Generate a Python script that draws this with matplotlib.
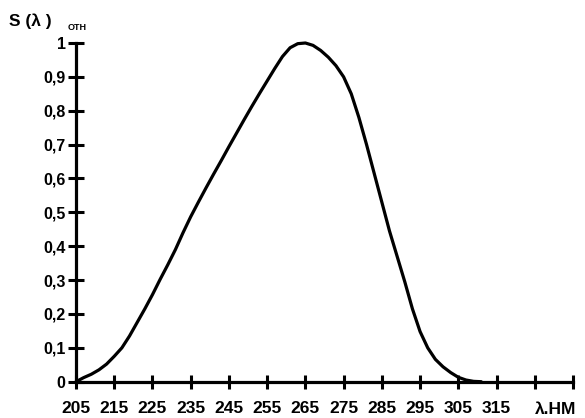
import numpy as np
import matplotlib
matplotlib.use("Agg")
import matplotlib.pyplot as plt

# spectral curve
wavelength = [205, 207, 209, 211, 213, 215, 217, 219, 221, 223, 225, 227, 229,
              231, 233, 235, 237, 239, 241, 243, 245, 247, 249, 251, 253, 255,
              257, 259, 261, 263, 265, 267, 269, 271, 273, 275, 277, 279, 281,
              283, 285, 287, 289, 291, 293, 295, 297, 299, 301, 303, 305, 307,
              309, 311]
sensitivity = [0.0, 0.012, 0.022, 0.035, 0.052, 0.075, 0.1, 0.135, 0.175,
               0.215, 0.257, 0.302, 0.345, 0.39, 0.44, 0.487, 0.53, 0.572,
               0.613, 0.653, 0.694, 0.734, 0.774, 0.813, 0.851, 0.888, 0.925,
               0.96, 0.986, 0.998, 1.0, 0.993, 0.978, 0.958, 0.933, 0.9, 0.85,
               0.78, 0.7, 0.615, 0.53, 0.445, 0.37, 0.295, 0.215, 0.148, 0.1,
               0.066, 0.044, 0.027, 0.013, 0.005, 0.001, 0.0]

x_ticks = list(range(205, 336, 10))
x_labels = [str(v) for v in range(205, 316, 10)] + ["", ""]
y_ticks = [i / 10 for i in range(11)]
y_labels = ["0"] + ["0," + str(i) for i in range(1, 10)] + ["1"]

plt.rcParams['font.family'] = ['Liberation Sans', 'DejaVu Sans']
plt.rcParams['font.weight'] = 'bold'

fig = plt.figure(figsize=(5.85, 4.18), dpi=100)
ax = fig.add_axes([76 / 585, 36.3 / 418, (573 - 76) / 585, (381.7 - 43) / 418])

ax.plot(wavelength, sensitivity, color='black', lw=2.3, clip_on=False,
        solid_capstyle='round', solid_joinstyle='round', zorder=3)

ax.set_xlim(205, 335)
ax.set_ylim(0, 1)
for side in ['top', 'right']:
    ax.spines[side].set_visible(False)
for side in ['left', 'bottom']:
    ax.spines[side].set_linewidth(2.3)

ax.set_xticks(x_ticks)
ax.set_xticklabels(x_labels, fontsize=12.5, fontweight='bold')
ax.set_yticks(y_ticks)
ax.set_yticklabels(y_labels, fontsize=11.5, fontweight='bold')
ax.tick_params(axis='x', direction='inout', length=10, width=2.2, pad=9)
ax.tick_params(axis='y', direction='inout', length=11, width=2.2, pad=2)

fig.text(9 / 585, 1 - 21 / 418, "S (λ )", fontsize=12.5, fontweight='bold',
         va='center', ha='left')
fig.text(68 / 585, 1 - 28 / 418, "ОТН", fontsize=6.5, fontweight='bold',
         va='center', ha='left')
fig.text(556 / 585, 1 - 409 / 418, "λ.НМ", fontsize=12.5, fontweight='bold',
         va='center', ha='center')

fig.savefig("out.png", dpi=100, facecolor='white')
